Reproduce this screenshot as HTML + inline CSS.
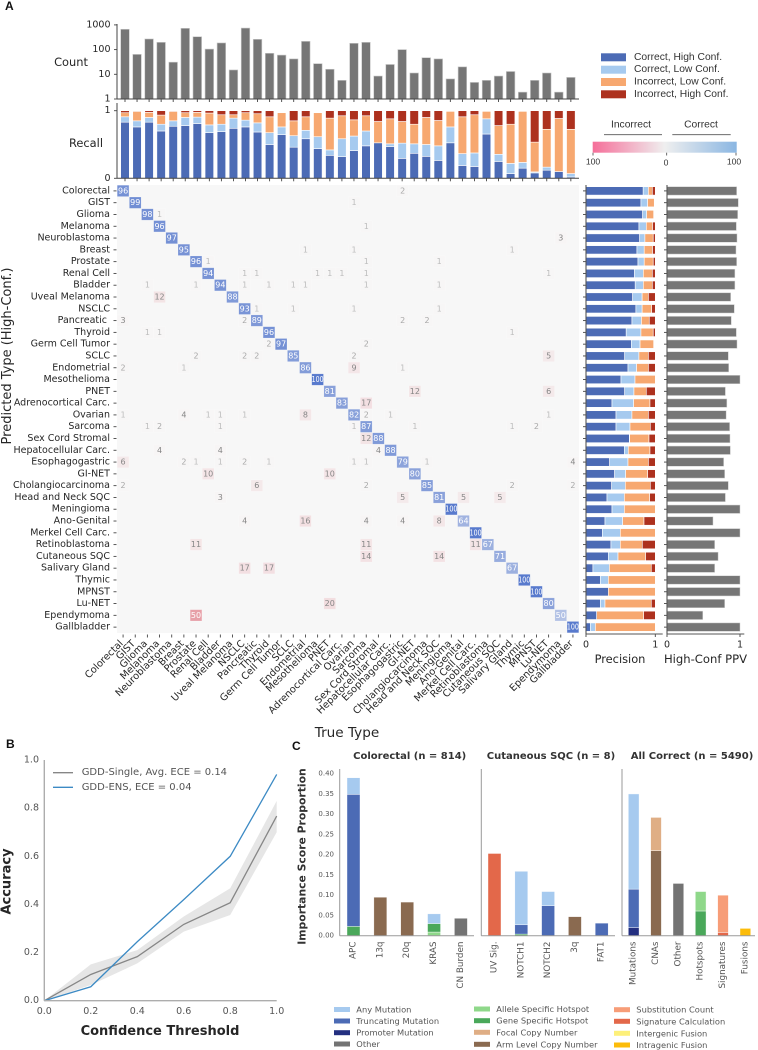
<!DOCTYPE html>
<html lang="en">
<head>
<meta charset="utf-8">
<title>GDD-ENS classifier performance</title>
<style>
html,body{margin:0;padding:0;background:#fff;}
svg{display:block;}
text{font-family:"DejaVu Sans",sans-serif;white-space:pre;}
.lib{font-family:"Liberation Sans",sans-serif;}
.panel{font-family:"Liberation Sans",sans-serif;font-weight:bold;font-size:12px;fill:#111;}
</style>
</head>
<body>
<svg id="figure" xmlns="http://www.w3.org/2000/svg" width="758" height="1050" viewBox="0 0 758 1050">
  <defs>
    <linearGradient id="cbar-gradient" x1="0" x2="1" y1="0" y2="0">
      <stop offset="0" stop-color="#f56e99"/>
      <stop offset="0.5" stop-color="#efefef"/>
      <stop offset="1" stop-color="#8ab6e2"/>
    </linearGradient>
  </defs>
  <rect width="758" height="1050" fill="#fff"/>

  <text class="panel" x="5" y="10" font-size="13">A</text>
  <text class="panel" x="6" y="748">B</text>
  <text class="panel" x="292" y="750">C</text>

  <g id="count-chart">
    <text x="71" y="62" font-size="11.4" fill="#262626" text-anchor="middle" dominant-baseline="central">Count</text>
  </g>
  <g id="recall-chart">
    <text x="86" y="143" font-size="11.4" fill="#262626" text-anchor="middle" dominant-baseline="central">Recall</text>
  </g>
  <g id="heatmap">
    <rect x="117" y="185" width="462" height="448" fill="#f7f7f7"/>
    <text transform="translate(7.5 356) rotate(-90)" font-size="13" fill="#262626" text-anchor="middle" dominant-baseline="central">Predicted Type (High-Conf.)</text>
    <text x="347" y="733" font-size="13.6" fill="#262626" text-anchor="middle" dominant-baseline="central">True Type</text>
  </g>
  <g id="precision-chart">
    <text x="620" y="659" font-size="11.4" fill="#262626" text-anchor="middle" dominant-baseline="central">Precision</text>
  </g>
  <g id="ppv-chart">
    <text x="705.5" y="659" font-size="11.6" fill="#262626" text-anchor="middle" dominant-baseline="central">High-Conf PPV</text>
  </g>

  <g>
    <rect x="601" y="53.3" width="25" height="8" fill="#4c6bb5"/>
    <text class="lib" x="634" y="57.3" font-size="10.3" fill="#333" dominant-baseline="central">Correct, High Conf.</text>
    <rect x="601" y="65.7" width="25" height="8" fill="#a6caef"/>
    <text class="lib" x="634" y="69.7" font-size="10.3" fill="#333" dominant-baseline="central">Correct, Low Conf.</text>
    <rect x="601" y="78" width="25" height="8" fill="#f7a870"/>
    <text class="lib" x="634" y="82" font-size="10.3" fill="#333" dominant-baseline="central">Incorrect, Low Conf.</text>
    <rect x="601" y="90.3" width="25" height="8" fill="#ad311e"/>
    <text class="lib" x="634" y="94.3" font-size="10.3" fill="#333" dominant-baseline="central">Incorrect, High Conf.</text>
  </g>

  <g>
    <text class="lib" x="631" y="125" font-size="10.3" fill="#333" text-anchor="middle" dominant-baseline="central">Incorrect</text>
    <line x1="604" x2="662" y1="134.7" y2="134.7" stroke="#555" stroke-width="0.9"/>
    <text class="lib" x="701" y="125" font-size="10.3" fill="#333" text-anchor="middle" dominant-baseline="central">Correct</text>
    <line x1="672.3" x2="730.7" y1="134.7" y2="134.7" stroke="#555" stroke-width="0.9"/>
    <rect x="592.7" y="141.7" width="144" height="11" fill="url(#cbar-gradient)"/>
    <line x1="593" x2="593" y1="152.7" y2="155.5" stroke="#444" stroke-width="0.8"/>
    <line x1="666.7" x2="666.7" y1="152.7" y2="155.5" stroke="#444" stroke-width="0.8"/>
    <line x1="736" x2="736" y1="152.7" y2="155.5" stroke="#444" stroke-width="0.8"/>
    <text class="lib" x="593" y="161.5" font-size="8.6" fill="#333" text-anchor="middle" dominant-baseline="central">100</text>
    <text class="lib" x="666" y="162.5" font-size="8.6" fill="#333" text-anchor="middle" dominant-baseline="central">0</text>
    <text class="lib" x="734" y="161.5" font-size="8.6" fill="#333" text-anchor="middle" dominant-baseline="central">100</text>
  </g>

  <g id="calibration-chart">
    <text transform="translate(7 881.5) rotate(-90)" font-size="13" font-weight="bold" fill="#262626" text-anchor="middle" dominant-baseline="central">Accuracy</text>
    <text x="160" y="1031.7" font-size="13" font-weight="bold" fill="#262626" text-anchor="middle" dominant-baseline="central">Confidence Threshold</text>
  </g>

  <g id="importance-charts">
    <text transform="translate(302 856.5) rotate(-90)" font-size="10.8" font-weight="bold" fill="#333" text-anchor="middle" dominant-baseline="central">Importance Score Proportion</text>
    <text x="409.7" y="756.7" font-size="10" font-weight="bold" fill="#333" text-anchor="middle" dominant-baseline="central">Colorectal (n = 814)</text>
    <text x="551" y="756.7" font-size="10" font-weight="bold" fill="#333" text-anchor="middle" dominant-baseline="central">Cutaneous SQC (n = 8)</text>
    <text x="692" y="756.7" font-size="10" font-weight="bold" fill="#333" text-anchor="middle" dominant-baseline="central">All Correct (n = 5490)</text>
  </g>

  <g font-size="8.3" fill="#555">
    <rect x="334" y="1007" width="16" height="5" fill="#a6caef"/>
    <text x="356.3" y="1009.3" dominant-baseline="central">Any Mutation</text>
    <rect x="334" y="1018.5" width="16" height="5" fill="#4c6bb5"/>
    <text x="356.3" y="1021" dominant-baseline="central">Truncating Mutation</text>
    <rect x="334" y="1030.2" width="16" height="5" fill="#232f80"/>
    <text x="356.3" y="1032.7" dominant-baseline="central">Promoter Mutation</text>
    <rect x="334" y="1041.5" width="16" height="5" fill="#737373"/>
    <text x="356.3" y="1044" dominant-baseline="central">Other</text>

    <rect x="474" y="1006.5" width="16" height="5" fill="#8fd88a"/>
    <text x="496.3" y="1009" dominant-baseline="central">Allele Specific Hotspot</text>
    <rect x="474" y="1018.2" width="16" height="5" fill="#4aa85a"/>
    <text x="496.3" y="1020.7" dominant-baseline="central">Gene Specific Hotspot</text>
    <rect x="474" y="1029.8" width="16" height="5" fill="#dfae85"/>
    <text x="496.3" y="1032.3" dominant-baseline="central">Focal Copy Number</text>
    <rect x="474" y="1041.8" width="16" height="5" fill="#8a6a50"/>
    <text x="496.3" y="1044.3" dominant-baseline="central">Arm Level Copy Number</text>

    <rect x="614" y="1007.2" width="16" height="5" fill="#f79d78"/>
    <text x="636.3" y="1009.7" dominant-baseline="central">Substitution Count</text>
    <rect x="614" y="1018.8" width="16" height="5" fill="#e3684a"/>
    <text x="636.3" y="1021.3" dominant-baseline="central">Signature Calculation</text>
    <rect x="614" y="1030.8" width="16" height="5" fill="#fdf07a"/>
    <text x="636.3" y="1033.3" dominant-baseline="central">Intergenic Fusion</text>
    <rect x="614" y="1042.5" width="16" height="5" fill="#fcbc0a"/>
    <text x="636.3" y="1045" dominant-baseline="central">Intragenic Fusion</text>
  </g>
</svg>

<script>
// ---------- Panel A data ----------
const cancerTypes = ['Colorectal','GIST','Glioma','Melanoma','Neuroblastoma','Breast','Prostate','Renal Cell','Bladder','Uveal Melanoma','NSCLC','Pancreatic ','Thyroid','Germ Cell Tumor','SCLC','Endometrial','Mesothelioma','PNET','Adrenocortical Carc.','Ovarian','Sarcoma','Sex Cord Stromal','Hepatocellular Carc.','Esophagogastric','GI-NET','Cholangiocarcinoma','Head and Neck SQC','Meningioma','Ano-Genital','Merkel Cell Carc.','Retinoblastoma','Cutaneous SQC','Salivary Gland','Thymic','MPNST','Lu-NET','Ependymoma','Gallbladder'];
const countValues = [665,64,269,197,31,727,332,105,186,15,745,261,71,60,42,216,27,16,5.7,180,197,8.5,25,100,11.3,47,42,6.5,20,4.7,5.7,8.5,13,1.9,5.7,11.3,1.9,7.5];
const countTicks = [1,10,100,1000];
const recallTicks = [0,1];

const recallCorrectHigh = [.83,.76,.83,.70,.77,.78,.81,.675,.69,.74,.76,.685,.50,.645,.46,.585,.44,.34,.32,.41,.48,.525,.47,.295,.37,.325,.265,.525,.19,.175,.655,.25,.07,.15,.08,.12,.10,.02];
const recallCorrectLow = [.08,.09,.07,.10,.08,.12,.095,.115,.11,.15,.10,.135,.175,.115,.17,.125,.175,.08,.265,.215,.22,0,.04,.225,.14,.175,.215,.235,.175,.20,.225,.105,.15,.085,.015,.045,0,.05];
const recallIncorrectLow = [.06,.14,.075,.135,.14,.07,.07,.175,.14,.05,.11,.135,.235,.21,.22,.20,.355,.47,.34,.24,.225,.315,.37,.32,.29,.40,.375,.23,.545,.565,.11,.425,.58,.755,.44,.56,.785,.655];
const recallIncorrectHigh = [.03,.01,.025,.065,.01,.03,.025,.035,.06,.06,.03,.045,.09,0,.15,.09,0,.11,.075,.135,.075,.16,.12,.16,.20,.10,.145,0,.09,.06,0,.22,.20,0,.465,.275,.115,.275];

const diagonalValues = [96,99,98,96,97,95,96,94,94,88,93,89,96,97,85,86,100,81,83,82,87,88,88,79,80,85,81,100,64,100,67,71,67,100,100,80,50,100];
// one list per predicted type: pairs of [true-type index, percent]
const offDiagonalEntries = [
  [[23,2]],
  [[19,1]],
  [[3,1]],
  [[20,1]],
  [[36,3]],
  [[15,1],[19,1],[32,1]],
  [[7,1],[20,1],[26,1]],
  [[10,1],[11,1],[16,1],[17,1],[18,1],[20,1],[35,1]],
  [[2,1],[6,1],[10,1],[12,1],[14,1],[15,1],[20,1],[26,1]],
  [[3,12]],
  [[11,1],[14,1],[19,1],[26,1]],
  [[0,3],[10,2],[23,2],[25,2]],
  [[2,1],[3,1],[32,1]],
  [[12,2],[20,2]],
  [[6,2],[10,2],[11,2],[19,2],[35,5]],
  [[0,2],[5,1],[19,9],[23,1]],
  [],
  [[24,12],[35,6]],
  [[20,17]],
  [[0,1],[5,4],[7,1],[8,1],[10,1],[15,8],[20,2],[22,1],[35,1]],
  [[2,1],[3,2],[8,1],[19,1],[24,1],[32,1],[34,2]],
  [[20,12]],
  [[3,4],[8,4],[21,4]],
  [[0,6],[5,2],[6,1],[8,1],[10,2],[12,1],[19,1],[20,1],[25,1],[37,4]],
  [[7,10],[17,10]],
  [[0,2],[11,6],[20,2],[32,2],[37,2]],
  [[8,3],[23,5],[28,5],[31,5]],
  [],
  [[10,4],[15,16],[20,4],[23,4],[26,8]],
  [],
  [[6,11],[20,11],[29,11]],
  [[20,14],[26,14]],
  [[10,17],[12,17]],
  [],
  [],
  [[17,20]],
  [[6,50]],
  []
];

const precisionCorrectHigh = [.825,.793,.817,.764,.774,.735,.75,.70,.71,.673,.72,.663,.58,.654,.558,.606,.505,.558,.375,.433,.433,.625,.553,.341,.413,.37,.303,.375,.274,.236,.36,.322,.10,.207,.322,.207,.154,.0625];
const precisionCorrectLow = [.075,.096,.058,.106,.076,.105,.09,.127,.117,.137,.09,.137,.213,.126,.206,.124,.202,.134,.3125,.23,.202,.005,.057,.265,.159,.197,.25,.178,.255,.259,.135,.14,.237,.115,0,.067,0,.0725];
const precisionIncorrectLow = [.057,.096,.101,.09,.12,.12,.13,.13,.13,.09,.137,.113,.177,.196,.136,.17,.293,.178,.2355,.237,.293,.279,.313,.294,.317,.361,.365,.447,.308,.505,.3175,.398,.605,.678,.678,.668,.678,.865];
const precisionIncorrectHigh = [.043,0,0,.04,.03,.04,.03,.043,.043,.10,.053,.087,.03,0,.10,.10,0,.13,.077,.10,.072,.091,.077,.10,.111,.072,.082,0,.163,0,.1875,.14,.058,0,0,.058,.168,0];
const ppvValues = [.954,.977,.968,.95,.959,.945,.954,.93,.93,.872,.922,.881,.95,.959,.84,.845,1,.80,.82,.81,.858,.863,.868,.776,.79,.84,.80,1,.63,1,.653,.70,.653,1,1,.79,.49,1];
const barAxisTicks = [0,1];

// ---------- Panel B data ----------
const confidenceThresholds = [0,.2,.4,.6,.8,1];
const singleAccuracy = [0,.109,.183,.317,.407,.767];
const singleAccuracyLow = [0,.065,.155,.287,.356,.70];
const singleAccuracyHigh = [0,.151,.21,.35,.467,.83];
const ensembleAccuracy = [0,.058,.245,.42,.60,.94];
const calibrationTicks = [0,.2,.4,.6,.8,1];
const calibrationLegend = ['GDD-Single, Avg. ECE = 0.14','GDD-ENS, ECE = 0.04'];

// ---------- Panel C data ----------
const importanceTicks = [0,.05,.10,.15,.20,.25,.30,.35,.40];
const colorectalFeatures = ['APC','13q','20q','KRAS','CN Burden'];
const colorectalAllele = [0,0,0,.009,0];
const colorectalGene = [.023,0,0,.021,0];
const colorectalTruncating = [.326,0,0,0,0];
const colorectalAny = [.041,0,0,.024,0];
const colorectalArm = [0,.095,.083,0,0];
const colorectalOther = [0,0,0,0,.043];

const cutaneousFeatures = ['UV Sig.','NOTCH1','NOTCH2','3q','FAT1'];
const cutaneousSignature = [.203,0,0,0,0];
const cutaneousGene = [0,.004,0,0,0];
const cutaneousTruncating = [0,.023,.074,0,.031];
const cutaneousAny = [0,.132,.035,0,0];
const cutaneousArm = [0,0,0,.047,0];

const allCorrectFeatures = ['Mutations','CNAs','Other','Hotspots','Signatures','Fusions'];
const allCorrectPromoter = [.02,0,0,0,0,0];
const allCorrectTruncating = [.095,0,0,0,0,0];
const allCorrectAny = [.235,0,0,0,0,0];
const allCorrectArm = [0,.21,0,0,0,0];
const allCorrectFocal = [0,.082,0,0,0,0];
const allCorrectOther = [0,0,.129,0,0,0];
const allCorrectGene = [0,0,0,.061,0,0];
const allCorrectAllele = [0,0,0,.048,0,0];
const allCorrectSignature = [0,0,0,0,.008,0];
const allCorrectSubstitution = [0,0,0,0,.092,0];
const allCorrectIntragenic = [0,0,0,0,0,.018];

// ---------- helpers ----------
const NS = 'http://www.w3.org/2000/svg';
function add(parent, tag, attrs, content) {
  const node = document.createElementNS(NS, tag);
  for (const k in attrs) node.setAttribute(k, attrs[k]);
  if (content !== undefined) node.textContent = content;
  parent.appendChild(node);
  return node;
}
const OUTCOME_COLORS = ['#4c6bb5','#a6caef','#f7a870','#ad311e'];
const AXIS = '#444';
const TXT = '#262626';

// ---------- axis functions ----------
const topX = i => 125 + 12.05 * i;
const countY = v => 99 - Math.log10(v) * 24.7;
const recallY = v => 178.3 - v * 67.6;
const cellX = i => 117 + 12.158 * i;
const cellY = i => 185 + 11.79 * i;
const precisionX = v => 586 + v * 69.3;
const ppvX = v => 667 + v * 73;
const calX = v => 44.3 + v * 232.4;
const calY = v => 1000.7 - v * 240.7;
const impY = v => 935.7 - v * 405;

// ---------- count chart ----------
const countG = document.getElementById('count-chart');
countValues.forEach((v, i) => {
  const bar = add(countG, 'rect', {x: topX(i) - 4.3, y: countY(v), width: 8.6, height: 99 - countY(v), fill: '#767676', stroke: '#c9c9c9', 'stroke-width': 0.6});
  
  
  const t = add(countG, 'line', {x1: topX(i), x2: topX(i), y1: 99, y2: 102, stroke: AXIS, 'stroke-width': 0.9});
  
  
});
countTicks.forEach(v => {
  const t = add(countG, 'line', {x1: 114, x2: 117, y1: countY(v), y2: countY(v), stroke: AXIS, 'stroke-width': 0.9});
  
  
  const l = add(countG, 'text', {x: 110.5, y: countY(v), 'font-size': 9.5, fill: TXT, 'text-anchor': 'end', 'dominant-baseline': 'central'}, String(v));
  
  
});
const countSpineY = add(countG, 'line', {x1: 117, x2: 117, y1: 24, y2: 99, stroke: AXIS, 'stroke-width': 1});


const countSpineX = add(countG, 'line', {x1: 117, x2: 579, y1: 99, y2: 99, stroke: AXIS, 'stroke-width': 1});



// ---------- recall chart ----------
const recallG = document.getElementById('recall-chart');
cancerTypes.forEach((name, i) => {
  let cum = 0;
  [recallCorrectHigh[i], recallCorrectLow[i], recallIncorrectLow[i], recallIncorrectHigh[i]].forEach((v, s) => {
    if (v > 0) {
      const seg = add(recallG, 'rect', {x: topX(i) - 4.3, y: recallY(cum + v), width: 8.6, height: recallY(cum) - recallY(cum + v), fill: OUTCOME_COLORS[s], stroke: '#fff', 'stroke-width': 0.6});
      
      
    }
    cum += v;
  });
  const t = add(recallG, 'line', {x1: topX(i), x2: topX(i), y1: 178.3, y2: 181.3, stroke: AXIS, 'stroke-width': 0.9});
  
  
});
recallTicks.forEach(v => {
  const t = add(recallG, 'line', {x1: 114, x2: 117, y1: recallY(v), y2: recallY(v), stroke: AXIS, 'stroke-width': 0.9});
  
  
  const l = add(recallG, 'text', {x: 110.5, y: recallY(v), 'font-size': 9.5, fill: TXT, 'text-anchor': 'end', 'dominant-baseline': 'central'}, String(v));
  
  
});
const recallSpineY = add(recallG, 'line', {x1: 117, x2: 117, y1: 103, y2: 178.3, stroke: AXIS, 'stroke-width': 1});


const recallSpineX = add(recallG, 'line', {x1: 117, x2: 579, y1: 178.3, y2: 178.3, stroke: AXIS, 'stroke-width': 1});



// ---------- heatmap ----------
const hm = document.getElementById('heatmap');
function mix(a, b, t) {
  return 'rgb(' + a.map((c, k) => Math.round(c + (b[k] - c) * t)).join(',') + ')';
}
const BG = [247,247,247];
function correctColor(v) {
  return mix(BG, [88,122,205], v >= 100 ? 1 : 0.85 * v / 100);
}
function incorrectColor(v) {
  let t;
  if (v < 5) t = v * 0.005;
  else if (v <= 20) t = 0.12 + (v - 5) * 0.0075;
  else t = 0.23 + (v - 20) * 0.0183;
  return mix(BG, [226,135,145], Math.min(1, t));
}
function offTextColor(v) {
  if (v >= 30) return '#fff';
  if (v < 2) return '#bdbdbd';
  if (v < 3) return '#a8a8a8';
  return '#868686';
}
function drawCell(row, col, v, diag) {
  const c = add(hm, 'rect', {x: cellX(col) + .25, y: cellY(row) + .25, width: 11.66, height: 11.29, fill: diag ? correctColor(v) : incorrectColor(v), stroke: 'rgba(255,255,255,.28)', 'stroke-width': .5});
  
  
  const attrs = {x: cellX(col) + 6.08, y: cellY(row) + 5.9, 'font-size': 8, fill: diag ? '#fff' : offTextColor(v), 'text-anchor': 'middle', 'dominant-baseline': 'central'};
  if (v >= 100) { attrs.textLength = 12; attrs.lengthAdjust = 'spacingAndGlyphs'; }
  const t = add(hm, 'text', attrs, String(v));
  
  
}
diagonalValues.forEach((v, i) => drawCell(i, i, v, true));
offDiagonalEntries.forEach((row, r) => row.forEach(e => drawCell(r, e[0], e[1], false)));
cancerTypes.forEach((name, i) => {
  const cy = cellY(i) + 5.9;
  const cx = cellX(i) + 6.08;
  const yt = add(hm, 'line', {x1: 113.5, x2: 116.5, y1: cy, y2: cy, stroke: AXIS, 'stroke-width': .9});
  
  
  const yl = add(hm, 'text', {x: 110, y: cy, 'font-size': 9.5, fill: TXT, 'text-anchor': 'end', 'dominant-baseline': 'central'}, name);
  
  
  const xt = add(hm, 'line', {x1: cx, x2: cx, y1: 634.5, y2: 637.5, stroke: AXIS, 'stroke-width': .9});
  
  
  const xl = add(hm, 'text', {transform: 'translate(' + (cx + 0.5) + ' 644) rotate(-45)', 'font-size': 9.8, fill: TXT, 'text-anchor': 'end'}, name.trim());
  
  
});

// ---------- precision + PPV ----------
const precG = document.getElementById('precision-chart');
const ppvG = document.getElementById('ppv-chart');
cancerTypes.forEach((name, i) => {
  const cy = cellY(i) + 5.9;
  let cum = 0;
  [precisionCorrectHigh[i], precisionCorrectLow[i], precisionIncorrectLow[i], precisionIncorrectHigh[i]].forEach((v, s) => {
    if (v > 0) {
      const seg = add(precG, 'rect', {x: precisionX(cum), y: cy - 4.2, width: precisionX(cum + v) - precisionX(cum), height: 8.4, fill: OUTCOME_COLORS[s], stroke: '#fff', 'stroke-width': .6});
      
      
    }
    cum += v;
  });
  const pt = add(precG, 'line', {x1: 583, x2: 586, y1: cy, y2: cy, stroke: AXIS, 'stroke-width': .9});
  
  
  const ppvBar = add(ppvG, 'rect', {x: ppvX(0), y: cy - 4.2, width: ppvX(ppvValues[i]) - ppvX(0), height: 8.4, fill: '#767676', stroke: '#d2d2d2', 'stroke-width': .5});
  
  
  const vt = add(ppvG, 'line', {x1: 664, x2: 667, y1: cy, y2: cy, stroke: AXIS, 'stroke-width': .9});
  
  
});
barAxisTicks.forEach(v => {
  const a = add(precG, 'line', {x1: precisionX(v), x2: precisionX(v), y1: 634, y2: 637, stroke: AXIS, 'stroke-width': .9});
  
  
  const al = add(precG, 'text', {x: precisionX(v), y: 645, 'font-size': 9.5, fill: TXT, 'text-anchor': 'middle', 'dominant-baseline': 'central'}, String(v));
  
  
  const b = add(ppvG, 'line', {x1: ppvX(v), x2: ppvX(v), y1: 634, y2: 637, stroke: AXIS, 'stroke-width': .9});
  
  
  const bl = add(ppvG, 'text', {x: ppvX(v), y: 645, 'font-size': 9.5, fill: TXT, 'text-anchor': 'middle', 'dominant-baseline': 'central'}, String(v));
  
  
});
const precY = add(precG, 'line', {x1: 586, x2: 586, y1: 185, y2: 634, stroke: '#555', 'stroke-width': 1.1});


const precX = add(precG, 'line', {x1: 586, x2: 662.7, y1: 634, y2: 634, stroke: '#555', 'stroke-width': 1});


const ppvY = add(ppvG, 'line', {x1: 667, x2: 667, y1: 185, y2: 634, stroke: '#555', 'stroke-width': 1.1});


const ppvAxisX = add(ppvG, 'line', {x1: 667, x2: 744.3, y1: 634, y2: 634, stroke: '#555', 'stroke-width': 1});



// ---------- calibration chart ----------
const cal = document.getElementById('calibration-chart');
const upperPts = confidenceThresholds.map((x, i) => calX(x) + ',' + calY(singleAccuracyHigh[i]));
const lowerPts = confidenceThresholds.map((x, i) => calX(x) + ',' + calY(singleAccuracyLow[i])).reverse();
const band = add(cal, 'polygon', {points: upperPts.concat(lowerPts).join(' '), fill: '#e6e6e6'});


const singleLine = add(cal, 'polyline', {points: confidenceThresholds.map((x, i) => calX(x) + ',' + calY(singleAccuracy[i])).join(' '), fill: 'none', stroke: '#868686', 'stroke-width': 1.3});


const ensLine = add(cal, 'polyline', {points: confidenceThresholds.map((x, i) => calX(x) + ',' + calY(ensembleAccuracy[i])).join(' '), fill: 'none', stroke: '#3c8ac4', 'stroke-width': 1.3});


const calSpineY = add(cal, 'line', {x1: calX(0), x2: calX(0), y1: calY(1), y2: calY(0), stroke: '#adadad', 'stroke-width': 1.4});


const calSpineX = add(cal, 'line', {x1: calX(0), x2: calX(1), y1: calY(0), y2: calY(0), stroke: '#adadad', 'stroke-width': 1.4});


calibrationTicks.forEach(v => {
  const yl = add(cal, 'text', {x: 39, y: calY(v), 'font-size': 9.5, fill: '#555', 'text-anchor': 'end', 'dominant-baseline': 'central'}, v.toFixed(1));
  
  
  const xl = add(cal, 'text', {x: calX(v), y: 1011.7, 'font-size': 9.5, fill: '#555', 'text-anchor': 'middle', 'dominant-baseline': 'central'}, v.toFixed(1));
  
  
});
['#868686', '#3c8ac4'].forEach((col, i) => {
  const ly = 772.7 + 14.6 * i;
  const sw = add(cal, 'line', {x1: 53, x2: 73, y1: ly, y2: ly, stroke: col, 'stroke-width': 1.3});
  
  
  const tx = add(cal, 'text', {x: 81.7, y: ly, 'font-size': 10, fill: '#555', 'dominant-baseline': 'central'}, calibrationLegend[i]);
  
  
});

// ---------- importance charts ----------
const imp = document.getElementById('importance-charts');
function drawImportance(features, axisX, axisEnd, firstX, stepX, barW, stacks) {
  const barX = i => firstX + stepX * i;
  features.forEach((label, i) => {
    let cum = 0;
    stacks.forEach(s => {
      const v = s.values[i];
      if (v > 0) {
        const seg = add(imp, 'rect', {x: barX(i) - barW / 2, y: impY(cum + v), width: barW, height: impY(cum) - impY(cum + v), fill: s.color, stroke: '#fff', 'stroke-width': .5, 'stroke-opacity': .8});
        
        
      }
      cum += v;
    });
    const l = add(imp, 'text', {transform: 'translate(' + barX(i) + ' 941.5) rotate(-90)', 'font-size': 8.8, fill: '#555', 'text-anchor': 'end', 'dominant-baseline': 'central'}, label);
    
    
  });
  const spineY = add(imp, 'line', {x1: axisX, x2: axisX, y1: 769, y2: impY(0), stroke: '#9a9a9a', 'stroke-width': 1});
  
  
  const spineX = add(imp, 'line', {x1: axisX, x2: axisEnd, y1: impY(0), y2: impY(0), stroke: '#9a9a9a', 'stroke-width': 1});
  
  
}
drawImportance(colorectalFeatures, 339.7, 474, 353.5, 26.85, 13, [
  {values: colorectalAllele, color: '#8fd88a'},
  {values: colorectalGene, color: '#4aa85a'},
  {values: colorectalTruncating, color: '#4c6bb5'},
  {values: colorectalAny, color: '#a6caef'},
  {values: colorectalArm, color: '#8a6a50'},
  {values: colorectalOther, color: '#737373'}
]);
drawImportance(cutaneousFeatures, 481.3, 615, 494.5, 26.8, 13, [
  {values: cutaneousSignature, color: '#e3684a'},
  {values: cutaneousGene, color: '#4aa85a'},
  {values: cutaneousTruncating, color: '#4c6bb5'},
  {values: cutaneousAny, color: '#a6caef'},
  {values: cutaneousArm, color: '#8a6a50'}
]);
drawImportance(allCorrectFeatures, 622, 755, 633.7, 22.33, 10.7, [
  {values: allCorrectPromoter, color: '#232f80'},
  {values: allCorrectTruncating, color: '#4c6bb5'},
  {values: allCorrectAny, color: '#a6caef'},
  {values: allCorrectArm, color: '#8a6a50'},
  {values: allCorrectFocal, color: '#dfae85'},
  {values: allCorrectOther, color: '#737373'},
  {values: allCorrectGene, color: '#4aa85a'},
  {values: allCorrectAllele, color: '#8fd88a'},
  {values: allCorrectSignature, color: '#e3684a'},
  {values: allCorrectSubstitution, color: '#f79d78'},
  {values: allCorrectIntragenic, color: '#fcbc0a'}
]);
importanceTicks.forEach(v => {
  const l = add(imp, 'text', {x: 334, y: impY(v), 'font-size': 7, fill: '#555', 'text-anchor': 'end', 'dominant-baseline': 'central'}, v.toFixed(2));
  
  
});
</script>
</body>
</html>
